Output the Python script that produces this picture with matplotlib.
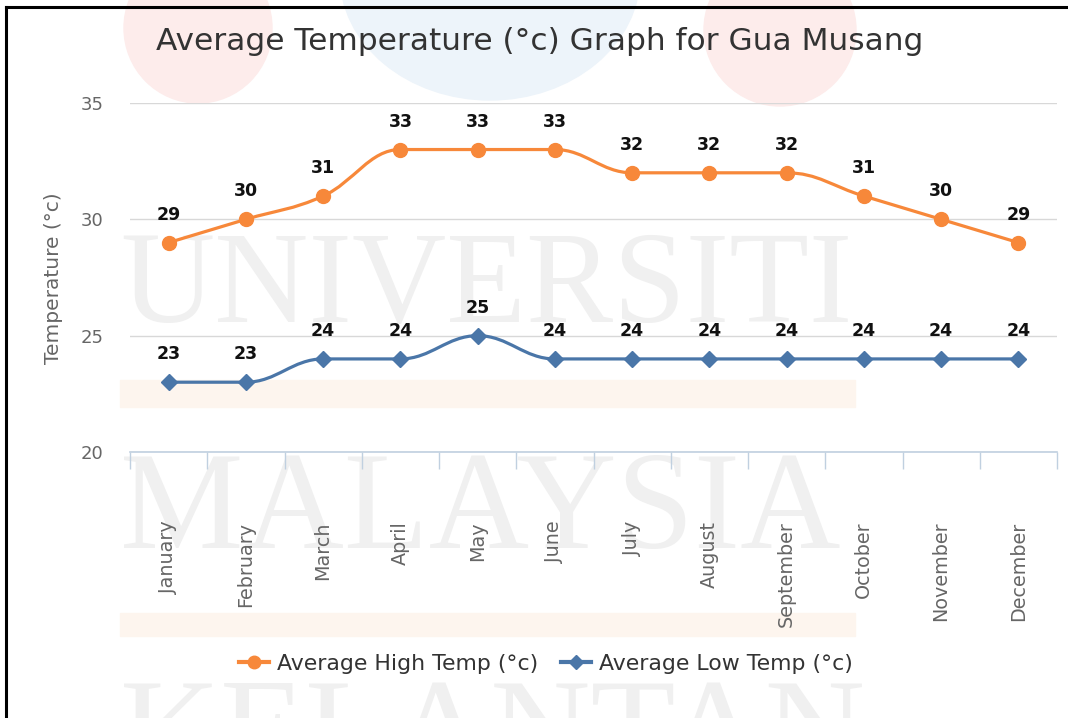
import numpy as np
import matplotlib.pyplot as plt
from matplotlib.path import Path
from matplotlib.patches import PathPatch, Ellipse, Rectangle
from matplotlib.lines import Line2D

# data
months = ['January', 'February', 'March', 'April', 'May', 'June', 'July',
          'August', 'September', 'October', 'November', 'December']
high_temp = [29, 30, 31, 33, 33, 33, 32, 32, 32, 31, 30, 29]
low_temp = [23, 23, 24, 24, 25, 24, 24, 24, 24, 24, 24, 24]
y_ticks = [20, 25, 30, 35]

title = 'Average Temperature (°c) Graph for Gua Musang'
high_name = 'Average High Temp (°c)'
low_name = 'Average Low Temp (°c)'

high_color = '#f7883a'
low_color = '#4a76a8'

W, H = 1068, 718


def fx(x):
    return x / W


def fy(y):
    return 1 - y / H


def spline_path(xs, ys, smoothing=1.5):
    # highcharts-like spline: cubic bezier with smoothed control points
    n = len(xs)
    lc = [(xs[i], ys[i]) for i in range(n)]
    rc = [(xs[i], ys[i]) for i in range(n)]
    d = smoothing + 1
    for i in range(1, n - 1):
        px, py = xs[i], ys[i]
        lx, ly = xs[i - 1], ys[i - 1]
        nx, ny = xs[i + 1], ys[i + 1]
        lcx = (smoothing * px + lx) / d
        lcy = (smoothing * py + ly) / d
        rcx = (smoothing * px + nx) / d
        rcy = (smoothing * py + ny) / d
        corr = 0
        if rcx != lcx:
            corr = (rcy - lcy) * (rcx - px) / (rcx - lcx) + py - rcy
        lcy += corr
        rcy += corr
        if lcy > ly and lcy > py:
            lcy = max(ly, py)
            rcy = 2 * py - lcy
        elif lcy < ly and lcy < py:
            lcy = min(ly, py)
            rcy = 2 * py - lcy
        if rcy > ny and rcy > py:
            rcy = max(ny, py)
            lcy = 2 * py - rcy
        elif rcy < ny and rcy < py:
            rcy = min(ny, py)
            lcy = 2 * py - rcy
        lc[i] = (lcx, lcy)
        rc[i] = (rcx, rcy)
    verts = [(xs[0], ys[0])]
    codes = [Path.MOVETO]
    for i in range(1, n):
        verts += [rc[i - 1], lc[i], (xs[i], ys[i])]
        codes += [Path.CURVE4] * 3
    return Path(verts, codes)


fig = plt.figure(figsize=(W / 100, H / 100), dpi=100)
fig.patch.set_facecolor('white')

# faint watermark behind the chart
for cx, cy, w, h, c in [(198, 28, 148, 150, '#fdeceb'),
                        (490, -25, 300, 250, '#edf4fa'),
                        (780, 30, 152, 152, '#fdeceb')]:
    fig.add_artist(Ellipse((fx(cx), fy(cy)), w / W, h / H, color=c,
                           transform=fig.transFigure, zorder=-3))
for top, bot in [(380, 407), (613, 636)]:
    fig.add_artist(Rectangle((fx(120), fy(bot)), fx(855) - fx(120), (bot - top) / H,
                             color='#fdf5ee', transform=fig.transFigure, zorder=-3))
for word, base, size in [('UNIVERSITI', 322, 94), ('MALAYSIA', 548, 100),
                         ('KELANTAN', 775, 100)]:
    fig.text(fx(120), fy(base), word, ha='left', va='baseline', fontsize=size,
             family='Liberation Serif', color='#f0f0f0', zorder=-2)

# border
fig.add_artist(Line2D([fx(6), 1], [fy(7), fy(7)], color='black', lw=2.2,
                      transform=fig.transFigure))
fig.add_artist(Line2D([fx(6), fx(6)], [0, fy(7)], color='black', lw=2.2,
                      transform=fig.transFigure))

ax = fig.add_axes([fx(130), fy(452), fx(1057) - fx(130), fy(103) - fy(452)])
ax.set_facecolor('none')
ax.set_xlim(-0.5, 11.5)
ax.set_ylim(20, 35)

x = np.arange(len(months))
for vals, col, mk, ms in [(high_temp, high_color, 'o', 10), (low_temp, low_color, 'D', 8)]:
    ax.add_patch(PathPatch(spline_path(x, vals), fill=False, edgecolor=col,
                           lw=2.3, zorder=3, capstyle='round'))
    ax.plot(x, vals, mk, color=col, ms=ms, zorder=4)
    for xi, v in zip(x, vals):
        ax.annotate(str(v), (xi, v), xytext=(0, 28), textcoords='offset pixels',
                    ha='center', va='center', fontsize=12.5, fontweight='bold',
                    color='#111111', zorder=5)

ax.set_yticks(y_ticks)
ax.grid(axis='y', color='#d8d8d8', lw=1)
ax.set_axisbelow(True)
ax.tick_params(axis='y', length=0, pad=19, labelsize=13, labelcolor='#666666')

ax.set_xticks(x)
ax.set_xticklabels(months, rotation=90, va='top', ha='center')
ax.set_xticks(np.arange(-0.5, 12, 1), minor=True)
ax.tick_params(axis='x', which='major', length=0, pad=50, labelsize=13.8,
               labelcolor='#666666')
ax.tick_params(axis='x', which='minor', length=12.5, width=1, color='#c0d0e0')

for s in ['left', 'right', 'top']:
    ax.spines[s].set_visible(False)
ax.spines['bottom'].set_color('#c0d0e0')
ax.spines['bottom'].set_linewidth(1.2)

fig.text(fx(540), fy(42), title, ha='center', va='center', fontsize=22.5, color='#333333')
fig.text(fx(54), fy(278), 'Temperature (°c)', rotation=90, ha='center', va='center',
         fontsize=14.5, color='#666666')

handles = [Line2D([], [], color=high_color, lw=3, marker='o', ms=9),
           Line2D([], [], color=low_color, lw=3, marker='D', ms=7)]
fig.legend(handles, [high_name, low_name], loc='center',
           bbox_to_anchor=(fx(546), fy(664)), ncol=2, frameon=False,
           fontsize=15.8, handlelength=1.36, handletextpad=0.35, columnspacing=1.05,
           labelcolor='#333333')

fig.savefig('out.png', dpi=100)
